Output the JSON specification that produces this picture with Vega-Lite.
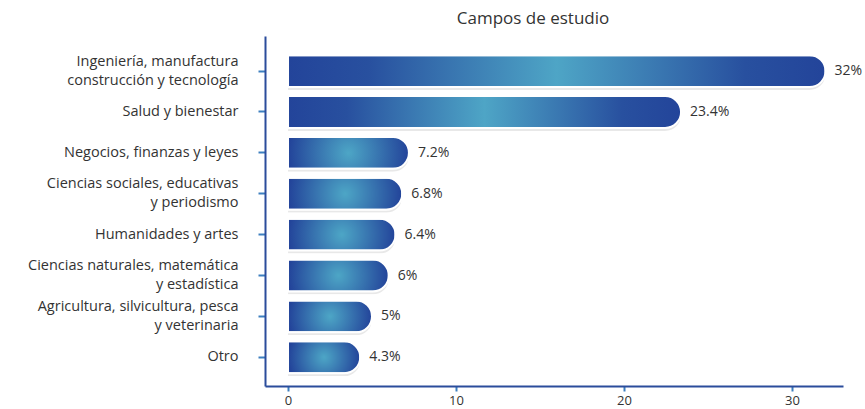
{
  "$schema": "https://vega.github.io/schema/vega-lite/v6.json",
  "width": 578,
  "height": 350,
  "autosize": {"type": "none"},
  "padding": {"left": 265, "top": 36, "right": 22, "bottom": 23},
  "background": "white",
  "title": {"text": "Campos de estudio", "fontSize": 17, "font": "Open Sans", "fontWeight": "normal", "color": "#333333", "offset": 8, "dx": -21},
  "config": {"view": {"stroke": null}},
  "data": {
    "values": [
      {"campo": "Ingeniería, manufactura|construcción y tecnología", "pct": 32, "label": "32%"},
      {"campo": "Salud y bienestar", "pct": 23.4, "label": "23.4%"},
      {"campo": "Negocios, finanzas y leyes", "pct": 7.2, "label": "7.2%"},
      {"campo": "Ciencias sociales, educativas|y periodismo", "pct": 6.8, "label": "6.8%"},
      {"campo": "Humanidades y artes", "pct": 6.4, "label": "6.4%"},
      {"campo": "Ciencias naturales, matemática|y estadística", "pct": 6, "label": "6%"},
      {"campo": "Agricultura, silvicultura, pesca|y veterinaria", "pct": 5, "label": "5%"},
      {"campo": "Otro", "pct": 4.3, "label": "4.3%"}
    ]
  },
  "encoding": {
    "y": {
      "field": "campo", "type": "nominal", "sort": null,
      "scale": {"paddingInner": 0.22, "paddingOuter": 0.39, "align": 0.6},
      "axis": {
        "title": null, "grid": false,
        "domainColor": "#2b4c9b", "domainWidth": 2,
        "tickColor": "#3d7fbf", "tickWidth": 2, "tickSize": 7,
        "labelPadding": 20, "labelFont": "Open Sans", "labelFontSize": 14.5, "labelColor": "#333333",
        "labelLineHeight": 19, "labelLimit": 300,
        "labelOffset": {"condition": {"test": "indexof(datum.value, '|') >= 0", "value": -9.5}, "value": 0},
        "labelExpr": "split(datum.label, '|')"
      }
    },
    "x": {
      "field": "pct", "type": "quantitative",
      "scale": {"domain": [-1.37, 33.04], "nice": false, "zero": false},
      "axis": {
        "title": null, "grid": false, "values": [0, 10, 20, 30],
        "domainColor": "#2b4c9b", "domainWidth": 2,
        "tickColor": "#3d7fbf", "tickWidth": 2, "tickSize": 5,
        "labelFont": "Open Sans", "labelFontSize": 13, "labelColor": "#333333", "labelPadding": 3, "labelFlush": false
      }
    }
  },
  "layer": [
    {
      "mark": {"type": "bar", "cornerRadiusEnd": 16, "color": "#000000", "opacity": 0.09, "yOffset": 3, "xOffset": -1}
    },
    {
      "mark": {"type": "bar", "cornerRadiusEnd": 16, "stroke": "white", "strokeWidth": 2},
      "encoding": {
        "fill": {
          "condition": {
            "test": "datum.pct < 10",
            "value": {"gradient": "radial", "x1": 0.5, "y1": 0.5, "r1": 0, "x2": 0.5, "y2": 0.5, "r2": 0.55,
              "stops": [{"offset": 0, "color": "#4da6c6"}, {"offset": 0.9, "color": "#23449a"}, {"offset": 1, "color": "#23449a"}]}
          },
          "value": {"gradient": "linear", "x1": 0, "y1": 0, "x2": 1, "y2": 0,
            "stops": [{"offset": 0, "color": "#23449a"}, {"offset": 0.15, "color": "#28509f"}, {"offset": 0.5, "color": "#4ea5c6"}, {"offset": 0.85, "color": "#28509f"}, {"offset": 1, "color": "#23449a"}]}
        }
      }
    },
    {
      "mark": {"type": "text", "align": "left", "dx": 9, "fontSize": 14, "font": "Open Sans", "color": "#333333"},
      "encoding": {"text": {"field": "label"}}
    }
  ]
}
